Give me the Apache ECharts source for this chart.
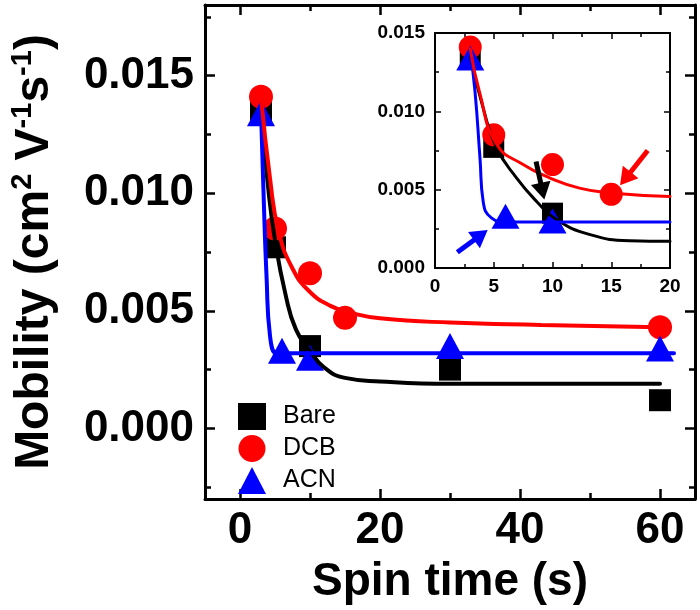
<!DOCTYPE html>
<html>
<head>
<meta charset="utf-8">
<script src="https://cdn.jsdelivr.net/npm/echarts@6/dist/echarts.min.js"></script>
<style>html,body{margin:0;padding:0;background:#fff}#c{width:700px;height:610px}</style>
</head>
<body>
<div id="c"></div>
<script>
// ---- measured points ----
const bareX = [3, 5, 10, 30, 60];
const bareY = [0.0135, 0.0077, 0.0035, 0.0025, 0.0012];
const dcbX = [3, 5, 10, 15, 60];
const dcbY = [0.0141, 0.0085, 0.0066, 0.0047, 0.0043];
const acnX = [3, 6, 10, 30, 60];
const acnY = [0.0134, 0.0033, 0.0030, 0.0035, 0.0034];

// ---- fitted curves (main panel) ----
const bareFitX = [3, 4, 5, 6.5, 8, 10, 12, 15, 20, 30, 45, 60];
const bareFitY = [0.0135, 0.0103, 0.0080, 0.0057, 0.0042, 0.0033, 0.0026, 0.00215, 0.0020, 0.0019, 0.0019, 0.0019];
const dcbFitX = [3, 4.3, 5.5, 7.5, 10, 13, 16, 20, 30, 43, 60];
const dcbFitY = [0.0141, 0.0106, 0.0084, 0.0068, 0.0058, 0.0052, 0.0049, 0.00468, 0.0045, 0.0044, 0.0043];
const acnFitX = [3, 3.3, 3.8, 4.3, 5.2, 6, 62];
const acnFitY = [0.0135, 0.0106, 0.0064, 0.0039, 0.0032, 0.0032, 0.0032];

// ---- fitted curves (inset) ----
const bareInX = [3, 4.1, 5.25, 6.95, 8.65, 10.35, 13.2, 16.6, 20];
const bareInY = [0.0135, 0.0102, 0.00766, 0.00574, 0.00425, 0.00308, 0.00213, 0.00174, 0.0017];
const dcbInX = [3, 3.8, 5.25, 7.5, 9.8, 12.3, 14.9, 20];
const dcbInY = [0.0140, 0.0112, 0.0079, 0.0066, 0.00574, 0.0051, 0.00479, 0.00457];
const acnInX = [3, 3.4, 3.83, 4.1, 4.8, 6.1, 20];
const acnInY = [0.0138, 0.0113, 0.0070, 0.00425, 0.0032, 0.00293, 0.00293];

// ---- arrows in inset: [fromX, fromY, toX, toY] ----
const arrowRed = [18.1, 0.0075, 16.2, 0.0057];
const arrowBlack = [8.6, 0.0068, 9.15, 0.0049];
const arrowBlue = [1.9, 0.0010, 3.9, 0.0021];

// ---- ticks ----
const xMainMajor = [0, 20, 40, 60];
const xMainMinor = [10, 30, 50];
const yMainMajor = [0, 0.005, 0.010, 0.015];
const yMainMinor = [-0.0025, 0.0025, 0.0075, 0.0125, 0.0175];

const FONT = 'Arial, "Liberation Sans", sans-serif';
const zip = (xs, ys) => xs.map((x, i) => [x, ys[i]]);

function axisBase(extra) {
  return Object.assign({
    type: 'value', splitLine: { show: false },
    axisLine: { show: false, onZero: false, lineStyle: { color: '#000', width: 3 } },
    axisTick: { show: false },
    axisLabel: { show: false }
  }, extra);
}
const tickStyle = (len, w) => ({ show: true, inside: true, length: len, lineStyle: { color: '#000', width: w } });

const xAxis = [
  axisBase({ gridIndex: 0, position: 'bottom', min: -5, max: 65,
    axisLine: { show: true, onZero: false, lineStyle: { color: '#000', width: 3 } },
    axisTick: Object.assign(tickStyle(10, 2.5), { customValues: xMainMajor }),
    axisLabel: { show: true, customValues: xMainMajor, fontSize: 44, fontWeight: 'bold', fontFamily: FONT, color: '#000', margin: 10 },
    name: 'Spin time (s)', nameLocation: 'middle', nameGap: 60,
    nameTextStyle: { fontSize: 46, fontWeight: 'bold', fontFamily: FONT, color: '#000' } }),
  axisBase({ gridIndex: 0, position: 'bottom', min: -5, max: 65,
    axisTick: Object.assign(tickStyle(6, 2.5), { customValues: xMainMinor }) }),
  axisBase({ gridIndex: 0, position: 'top', min: -5, max: 65,
    axisLine: { show: true, onZero: false, lineStyle: { color: '#000', width: 3 } },
    axisTick: Object.assign(tickStyle(10, 2.5), { customValues: xMainMajor }) }),
  axisBase({ gridIndex: 0, position: 'top', min: -5, max: 65,
    axisTick: Object.assign(tickStyle(6, 2.5), { customValues: xMainMinor }) }),
  axisBase({ gridIndex: 1, position: 'bottom', min: 0, max: 20, interval: 5,
    axisLine: { show: true, onZero: false, lineStyle: { color: '#000', width: 2 } },
    axisTick: tickStyle(6, 1.5),
    minorTick: { show: true, splitNumber: 2, length: 4, lineStyle: { color: '#000', width: 1.5 } },
    axisLabel: { show: true, fontSize: 19, fontWeight: 'bold', fontFamily: FONT, color: '#000', margin: 9 } }),
  axisBase({ gridIndex: 1, position: 'top', min: 0, max: 20, interval: 5,
    axisLine: { show: true, onZero: false, lineStyle: { color: '#000', width: 2 } },
    axisTick: tickStyle(6, 1.5),
    minorTick: { show: true, splitNumber: 2, length: 4, lineStyle: { color: '#000', width: 1.5 } } })
];

const yAxis = [
  axisBase({ gridIndex: 0, position: 'left', min: -0.003, max: 0.018,
    axisLine: { show: true, onZero: false, lineStyle: { color: '#000', width: 3 } },
    axisTick: Object.assign(tickStyle(10, 2.5), { customValues: yMainMajor }),
    axisLabel: { show: true, customValues: yMainMajor, formatter: v => v.toFixed(3), fontSize: 44, fontWeight: 'bold', fontFamily: FONT, color: '#000', margin: 11 },
    name: '{a|Mobility (cm}{s|2}{a| V}{s|-1}{a|s}{s|-1}{a|)}', nameLocation: 'middle', nameGap: 143, nameRotate: 90,
    nameTextStyle: { color: '#000', rich: {
      a: { fontSize: 48, fontWeight: 'bold', fontFamily: FONT, color: '#000', lineHeight: 54 },
      s: { fontSize: 29, fontWeight: 'bold', fontFamily: FONT, color: '#000', lineHeight: 32, verticalAlign: 'top' } } } }),
  axisBase({ gridIndex: 0, position: 'left', min: -0.003, max: 0.018,
    axisTick: Object.assign(tickStyle(6, 2.5), { customValues: yMainMinor }) }),
  axisBase({ gridIndex: 0, position: 'right', min: -0.003, max: 0.018,
    axisLine: { show: true, onZero: false, lineStyle: { color: '#000', width: 3 } },
    axisTick: Object.assign(tickStyle(10, 2.5), { customValues: yMainMajor }) }),
  axisBase({ gridIndex: 0, position: 'right', min: -0.003, max: 0.018,
    axisTick: Object.assign(tickStyle(6, 2.5), { customValues: yMainMinor }) }),
  axisBase({ gridIndex: 1, position: 'left', min: 0, max: 0.015, interval: 0.005,
    axisLine: { show: true, onZero: false, lineStyle: { color: '#000', width: 2 } },
    axisTick: tickStyle(6, 1.5),
    minorTick: { show: true, splitNumber: 2, length: 4, lineStyle: { color: '#000', width: 1.5 } },
    axisLabel: { show: true, formatter: v => v.toFixed(3), fontSize: 19, fontWeight: 'bold', fontFamily: FONT, color: '#000', margin: 10 } }),
  axisBase({ gridIndex: 1, position: 'right', min: 0, max: 0.015, interval: 0.005,
    axisLine: { show: true, onZero: false, lineStyle: { color: '#000', width: 2 } },
    axisTick: tickStyle(6, 1.5),
    minorTick: { show: true, splitNumber: 2, length: 4, lineStyle: { color: '#000', width: 1.5 } } })
];

function scatter(name, xs, ys, sym, size, color, gi) {
  return { name, type: 'scatter', xAxisIndex: gi ? 4 : 0, yAxisIndex: gi ? 4 : 0,
    symbol: sym, symbolSize: size, itemStyle: { color, opacity: 1 }, data: zip(xs, ys), z: 3 };
}
function fit(xs, ys, color, w, gi) {
  return { type: 'line', xAxisIndex: gi ? 4 : 0, yAxisIndex: gi ? 4 : 0, showSymbol: false, symbol: 'none',
    smooth: 0.5, lineStyle: { color, width: w, cap: 'round', join: 'round' }, data: zip(xs, ys), z: 4, silent: true };
}
const arrow = (a, color) => [
  { coord: [a[0], a[1]], lineStyle: { color, width: 5, type: 'solid' }, itemStyle: { color } },
  { coord: [a[2], a[3]] }
];

const option = {
  animation: false,
  backgroundColor: '#fff',
  grid: [
    { left: 205, right: 5, top: 5, bottom: 108, containLabel: false },
    { left: 435, top: 33, width: 235, height: 235, containLabel: false, show: true, backgroundColor: '#fff', borderWidth: 0 }
  ],
  xAxis, yAxis,
  legend: {
    orient: 'vertical', left: 233, top: 398, itemWidth: 28, itemHeight: 27, itemGap: 5,
    data: [
      { name: 'Bare', icon: 'rect' },
      { name: 'DCB', icon: 'circle' },
      { name: 'ACN', icon: 'triangle' }
    ],
    textStyle: { fontSize: 25, fontFamily: FONT, color: '#000', padding: [0, 0, 0, 12] },
    selectedMode: false
  },
  series: [
    scatter('Bare', bareX, bareY, 'rect', 22, '#000000', 0),
    scatter('DCB', dcbX, dcbY, 'circle', 24, '#ff0000', 0),
    scatter('ACN', acnX, acnY, 'triangle', [28, 26], '#0000ff', 0),
    fit(bareFitX, bareFitY, '#000000', 4, 0),
    fit(acnFitX, acnFitY, '#0000ff', 4, 0),
    fit(dcbFitX, dcbFitY, '#ff0000', 4, 0),
    scatter('Bare', bareX, bareY, 'rect', 21, '#000000', 1),
    scatter('DCB', dcbX, dcbY, 'circle', 23, '#ff0000', 1),
    scatter('ACN', acnX, acnY, 'triangle', [28, 25], '#0000ff', 1),
    fit(bareInX, bareInY, '#000000', 3, 1),
    fit(acnInX, acnInY, '#0000ff', 3, 1),
    fit(dcbInX, dcbInY, '#ff0000', 3, 1),
    { type: 'line', xAxisIndex: 4, yAxisIndex: 4, data: [], silent: true,
      markLine: { silent: true, symbol: ['none', 'triangle'], symbolSize: [20, 17], label: { show: false },
        lineStyle: { type: 'solid', width: 5 },
        emphasis: { disabled: true },
        data: [arrow(arrowRed, '#ff0000'), arrow(arrowBlack, '#000000'), arrow(arrowBlue, '#0000ff')] } }
  ]
};
echarts.init(document.getElementById('c'), null, { renderer: 'canvas' }).setOption(option);
</script>
</body>
</html>
